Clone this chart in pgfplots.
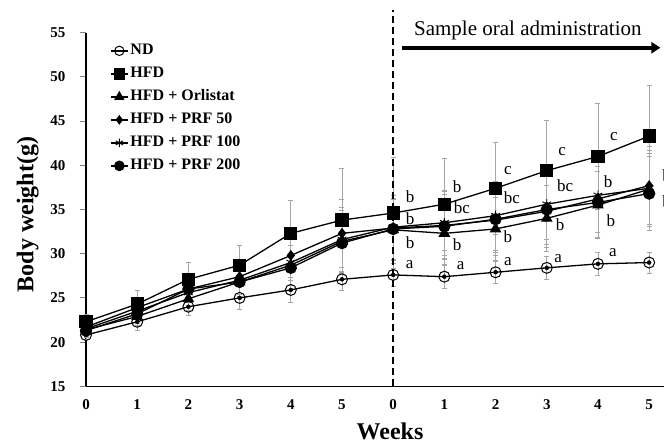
\documentclass[border=0pt]{standalone}
\usepackage{fontspec}
\setmainfont{Liberation Serif}
\usepackage{pgfplots}
\pgfplotsset{compat=1.18}
\usepackage{pgfplotstable}
\usetikzlibrary{arrows.meta}

% x: position (0-5 before, 6-11 during sample administration)
\pgfplotstableread{
x  nd    ndE  hfd   hfdE orl   orlE p50   p50E p100  p100E p200  p200E
0  20.8  0.5  22.3  0.8  21.4  0.8  21.7  0.8  21.5  0.8   21.3  0.8
1  22.3  1.0  24.3  1.5  22.9  1.0  23.9  1.2  23.5  1.2   23.2  1.1
2  24.0  1.0  27.1  1.9  24.9  1.3  26.0  1.5  25.6  1.6   26.0  1.4
3  25.0  1.3  28.7  2.2  26.8  1.6  27.4  2.0  27.0  2.0   26.8  1.8
4  25.9  1.4  32.3  3.7  28.7  2.3  29.8  2.8  29.0  2.6   28.4  2.5
5  27.1  1.3  33.8  5.8  31.4  3.5  32.3  3.8  31.6  3.6   31.2  3.4
6  27.6  1.3  34.6  6.3  32.7  3.4  32.9  3.7  33.0  3.6   32.8  3.5
7  27.4  1.3  35.6  5.2  32.3  3.5  33.2  3.8  33.5  3.7   33.1  3.6
8  27.9  1.2  37.4  5.2  32.8  3.6  33.8  4.0  34.3  3.9   33.9  3.8
9  28.4  1.3  39.4  5.7  34.0  3.7  34.8  4.1  35.6  4.0   35.0  3.9
10 28.85 1.3  41.0  6.0  35.5  3.8  36.2  4.3  36.6  4.2   35.8  4.1
11 29.0  1.2  43.3  5.7  37.3  4.0  37.7  4.4  37.4  4.3   36.8  4.2
}\data

\pgfplotsset{
  errs/.style={only marks, mark=none, forget plot,
    error bars/.cd, y dir=both, y explicit,
    error bar style={gray!70, line width=0.8pt},
    error mark options={rotate=90, gray!70, mark size=2.5pt, line width=0.7pt}},
  ser/.style={black, line width=1.3pt},
}

\begin{document}
\begin{tikzpicture}
\begin{axis}[
  name=ax,
  width=578pt, height=353.6pt, scale only axis,
  xmin=0, xmax=11.29, ymin=15, ymax=55,
  clip=false,
  axis x line=bottom, axis y line=left,
  axis line style={line width=1.3pt, -},
  xtick={0,...,11},
  xticklabels={0,1,2,3,4,5,0,1,2,3,4,5},
  xtick style={draw=none},
  ytick={15,20,...,55},
  tick align=outside, major tick length=6pt,
  ytick style={line width=1.1pt},
  /pgf/number format/assume math mode=true,
  tick label style={font=\fontsize{15}{17}\selectfont\bfseries},
  xticklabel style={yshift=-4pt},
  yticklabel style={xshift=-11pt},
  xlabel={Weeks}, ylabel={Body weight(g)},
  label style={font=\fontsize{24}{27}\selectfont\bfseries},
  xlabel style={xshift=15pt, yshift=-6pt},
  ylabel style={yshift=5pt, xshift=-5pt},
  legend cell align=left,
  legend style={at={(axis cs:0.41,54.1)}, anchor=north west, draw=none, fill=none,
    font=\fontsize{16}{18}\selectfont\bfseries,
    nodes={inner sep=0pt, text height=12pt, text depth=4pt},
    row sep=7pt, column sep=2pt},
  legend image code/.code={\draw[mark repeat=2, mark phase=2, every mark/.append style={scale=0.85}]
    plot coordinates {(0pt,0pt) (8.5pt,0pt) (17pt,0pt)};},
]
% error bars first, so the lines lie over them
\addplot[errs] table[x=x, y=nd, y error=ndE]{\data};
\addplot[errs] table[x=x, y=hfd, y error=hfdE]{\data};
\addplot[errs] table[x=x, y=orl, y error=orlE]{\data};
\addplot[errs] table[x=x, y=p50, y error=p50E]{\data};
\addplot[errs] table[x=x, y=p100, y error=p100E]{\data};
\addplot[errs] table[x=x, y=p200, y error=p200E]{\data};

\addplot[ser, mark=o, mark size=5.5pt, mark options={fill=white, line width=1pt}] table[x=x, y=nd]{\data};
\addplot[ser, mark=square*, mark size=6pt] table[x=x, y=hfd]{\data};
\addplot[ser, mark=triangle*, mark size=5.5pt] table[x=x, y=orl]{\data};
\addplot[ser, mark=diamond*, mark size=4.5pt] table[x=x, y=p50]{\data};
\addplot[ser, mark=asterisk, mark size=5pt, mark options={line width=0.9pt}] table[x=x, y=p100]{\data};
\addplot[ser, mark=*, mark size=5.5pt] table[x=x, y=p200]{\data};
\legend{ND, HFD, HFD + Orlistat, HFD + PRF 50, HFD + PRF 100, HFD + PRF 200}

% start of sample administration
\draw[line width=1.6pt, dash pattern=on 7pt off 4pt] (axis cs:6,15) -- (axis cs:6,57.6);
\draw[line width=4pt, -{Triangle[length=9pt,width=11pt]}] (axis cs:6.17,53.3) -- (axis cs:11.22,53.3);
\node[font=\fontsize{21}{24}\selectfont] at (axis cs:8.63,55.3) {Sample oral administration};

% significance letters
\begin{scope}[font=\fontsize{17}{19}\selectfont]
\node at (axis cs:6.33,36.5) {b};  \node at (axis cs:6.33,34.0) {b};
\node at (axis cs:6.33,31.2) {b};  \node at (axis cs:6.32,28.8) {a};
\node at (axis cs:7.25,37.6) {b};  \node at (axis cs:7.34,35.2) {bc};
\node at (axis cs:7.25,31.0) {b};  \node at (axis cs:7.32,28.65) {a};
\node at (axis cs:8.24,39.4) {c};  \node at (axis cs:8.32,36.3) {bc};
\node at (axis cs:8.24,31.9) {b};  \node at (axis cs:8.24,29.1) {a};
\node at (axis cs:9.30,41.6) {c};  \node at (axis cs:9.36,37.7) {bc};
\node at (axis cs:9.26,33.3) {b};  \node at (axis cs:9.22,29.5) {a};
\node at (axis cs:10.31,43.2) {c}; \node at (axis cs:10.20,38.1) {b};
\node at (axis cs:10.25,33.7) {b}; \node at (axis cs:10.29,30.1) {a};
\node at (axis cs:11.38,44.8) {c}; \node at (axis cs:11.34,38.8) {b};
\node at (axis cs:11.34,35.9) {b}; \node at (axis cs:11.36,30.5) {a};
\end{scope}

\coordinate (bl) at (axis cs:-1.68,8.07);
\coordinate (tr) at (axis cs:11.29,58.7);
\end{axis}
\pgfresetboundingbox
\path[use as bounding box] (bl) rectangle (tr);
\end{tikzpicture}
\end{document}
